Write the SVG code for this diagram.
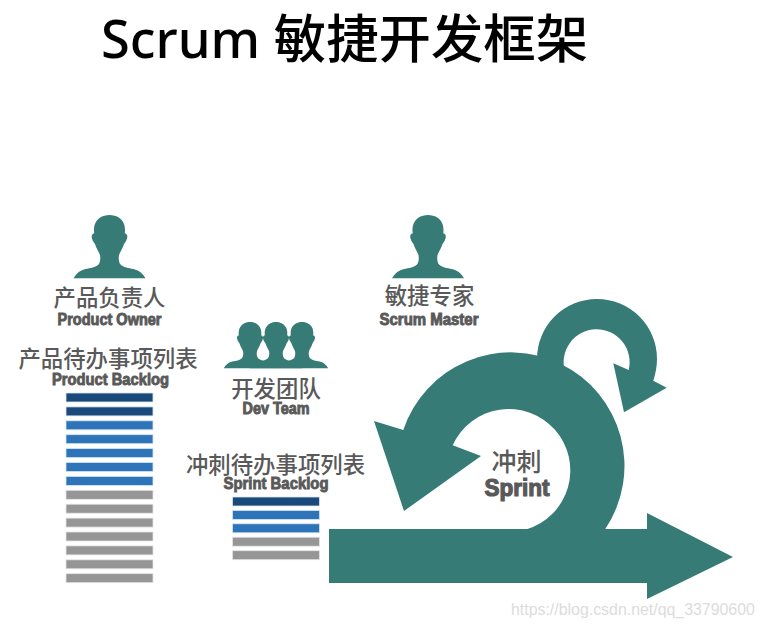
<svg xmlns="http://www.w3.org/2000/svg" xmlns:xlink="http://www.w3.org/1999/xlink" width="764" height="628" viewBox="0 0 764 628">
<style>
text{font-family:"Noto Sans CJK SC","Noto Sans",sans-serif;text-anchor:middle;fill:#595959}
.title{font-family:"Noto Sans","Noto Sans CJK SC",sans-serif;font-size:52.400px;font-weight:500;fill:#000;text-anchor:start}
.cn{font-size:22.400px;font-weight:500}
.en{font-family:"Liberation Sans Narrow","Liberation Sans",sans-serif;font-weight:700;font-size:16px;stroke:#595959;stroke-width:.9px}
.teal{fill:#367b76}
.d{fill:#1a4a7c;stroke:#dce6ee;stroke-width:.8}
.b{fill:#2e74b8;stroke:#d5e5f2;stroke-width:.8}
.g{fill:#969696;stroke:#e4e4e4;stroke-width:.8}
.wm{font-family:"Liberation Sans",sans-serif;font-size:15.900px;fill:#dcdcdc;text-anchor:start}
</style>
<defs>
<path id="person" class="teal" d="M-36 63.300C-33 58-29 55-24 54C-19 53-14 52.500-11 49.500C-9 47-9 43-9.500 40C-11 36-13.500 33-14.500 29C-16 27-18 24-17.800 21C-17.600 19-16 18.500-15.300 18.500C-16 12-15 7-10 3C-7 .8-3 0 0 0C3 0 7 .8 10 3C15 7 16 12 15.300 18.500C16 18.500 17.600 19 17.800 21C18 24 16 27 14.500 29C13.500 33 11 36 9.500 40C9 43 9 47 11 49.500C14 52.500 19 53 24 54C29 55 33 58 36 63.300Z"/>
<rect id="bar" width="87" height="9"/>
</defs>
<text class="title" x="101" y="58">Scrum 敏捷开发框架</text>
<g id="product-owner">
<use href="#person" x="109.500" y="215"/>
<text class="cn" x="109.500" y="306">产品负责人</text>
<text class="en" x="109.500" y="325" textLength="104" lengthAdjust="spacingAndGlyphs">Product Owner</text>
</g>
<g id="scrum-master">
<use href="#person" x="428" y="215"/>
<text class="cn" x="429.500" y="304">敏捷专家</text>
<text class="en" x="429" y="325" textLength="99" lengthAdjust="spacingAndGlyphs">Scrum Master</text>
</g>
<g id="dev-team">
<use href="#person" transform="translate(250 322) scale(.73)"/>
<use href="#person" transform="translate(302 322) scale(.73)"/>
<use href="#person" transform="translate(276 322) scale(.73)"/>
<text class="cn" x="276" y="397">开发团队</text>
<text class="en" x="276" y="414" textLength="67" lengthAdjust="spacingAndGlyphs">Dev Team</text>
</g>
<g id="product-backlog">
<text class="cn" x="108" y="367">产品待办事项列表</text>
<text class="en" x="110.500" y="385" textLength="117" lengthAdjust="spacingAndGlyphs">Product Backlog</text>
<use href="#bar" class="d" x="66" y="393"/>
<use href="#bar" class="d" x="66" y="406.900"/>
<use href="#bar" class="b" x="66" y="420.800"/>
<use href="#bar" class="b" x="66" y="434.700"/>
<use href="#bar" class="b" x="66" y="448.600"/>
<use href="#bar" class="b" x="66" y="462.500"/>
<use href="#bar" class="b" x="66" y="476.400"/>
<use href="#bar" class="g" x="66" y="490.300"/>
<use href="#bar" class="g" x="66" y="504.200"/>
<use href="#bar" class="g" x="66" y="518.100"/>
<use href="#bar" class="g" x="66" y="532"/>
<use href="#bar" class="g" x="66" y="545.900"/>
<use href="#bar" class="g" x="66" y="559.800"/>
<use href="#bar" class="g" x="66" y="573.700"/>
</g>
<g id="sprint-backlog">
<text class="cn" x="275.500" y="473">冲刺待办事项列表</text>
<text class="en" x="276" y="489" textLength="105" lengthAdjust="spacingAndGlyphs">Sprint Backlog</text>
<use href="#bar" class="d" x="232.500" y="497"/>
<use href="#bar" class="b" x="232.500" y="510.400"/>
<use href="#bar" class="b" x="232.500" y="523.800"/>
<use href="#bar" class="g" x="232.500" y="537.200"/>
<use href="#bar" class="g" x="232.500" y="550.700"/>
</g>
<g id="connectors">
<path class="teal" d="M537 359A60 60 0 0 1 657 359C657 367 655.500 374 653.300 380.700L666.700 387.700L624 412.300L613.300 363.300L628.700 370A33 33 0 1 0 565 371.700L555 385Z"/>
<path class="teal" d="M605.300 529A113.500 113.500 0 1 0 403.300 430L374 421L404 511L481 456L452.700 445.300A61.500 61.500 0 1 1 526.700 529.300L540 545L600 545Z"/>
<path class="teal" d="M329 529H647V513L733 557L647 599V583H329Z"/>
</g>
<g id="sprint">
<text class="cn" x="516.500" y="471" style="font-size:25px">冲刺</text>
<text class="en" x="517" y="496" textLength="65" lengthAdjust="spacingAndGlyphs" style="font-size:23px;stroke-width:1.2px">Sprint</text>
</g>
<text class="wm" x="511" y="615">https://blog.csdn.net/qq_33790600</text>
</svg>
